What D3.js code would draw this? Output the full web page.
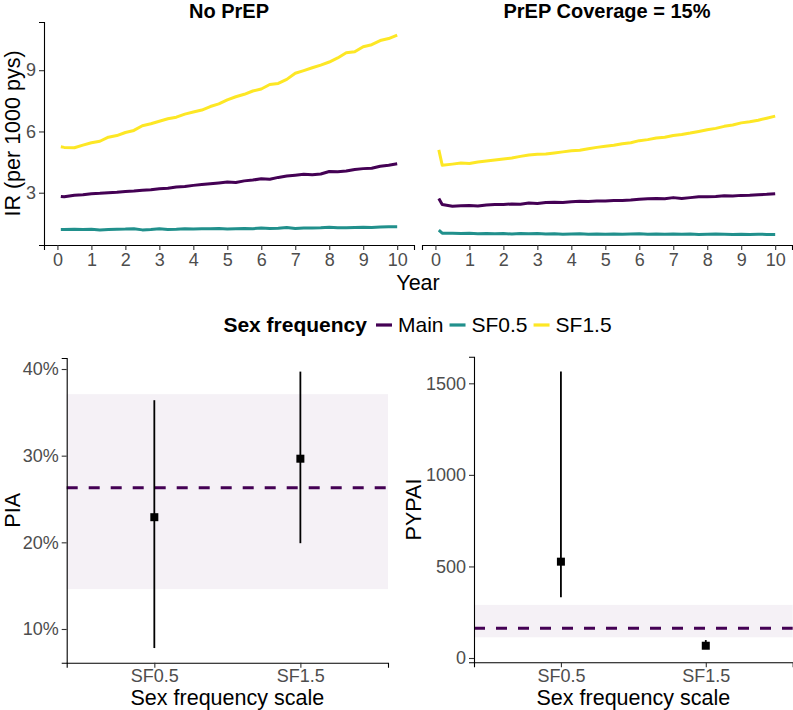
<!DOCTYPE html>
<html>
<head>
<meta charset="utf-8">
<script src="https://cdn.jsdelivr.net/npm/d3@7"></script>
<style>
  html, body { margin: 0; padding: 0; background: #fff; }
  svg { display: block; font-family: "Liberation Sans", Arial, sans-serif; }
</style>
</head>
<body>
<svg id="chart" width="793" height="710"></svg>
<script>
// ---------------- DATA ----------------
const years = [0.1, 0.2, 0.5, 0.75, 1.0, 1.25, 1.5, 1.75, 2.0, 2.25, 2.5, 2.75, 3.0, 3.25, 3.5, 3.75,
  4.0, 4.25, 4.5, 4.75, 5.0, 5.25, 5.5, 5.75, 6.0, 6.25, 6.5, 6.75, 7.0, 7.25, 7.5, 7.75,
  8.0, 8.25, 8.5, 8.75, 9.0, 9.25, 9.5, 9.75, 10.0];

const panelTitles = ["No PrEP", "PrEP Coverage = 15%"];
const seriesNames = ["Main", "SF0.5", "SF1.5"];
const seriesColors = ["#440154", "#21908C", "#FDE725"];

// No PrEP
const noPrepMain = [2.82, 2.80, 2.88, 2.90, 2.95, 2.97, 3.00, 3.02, 3.06, 3.08, 3.12, 3.15, 3.20, 3.22, 3.28, 3.30,
  3.36, 3.40, 3.44, 3.48, 3.52, 3.50, 3.58, 3.62, 3.68, 3.66, 3.75, 3.82, 3.86, 3.90, 3.88, 3.92,
  4.04, 4.03, 4.06, 4.14, 4.18, 4.20, 4.30, 4.35, 4.42];
const noPrepSF05 = [1.20, 1.20, 1.21, 1.20, 1.21, 1.18, 1.20, 1.21, 1.22, 1.24, 1.18, 1.20, 1.23, 1.20, 1.21, 1.23,
  1.22, 1.24, 1.24, 1.25, 1.22, 1.24, 1.25, 1.24, 1.27, 1.25, 1.26, 1.30, 1.25, 1.27, 1.27, 1.28,
  1.31, 1.28, 1.29, 1.30, 1.31, 1.30, 1.32, 1.33, 1.33];
const noPrepSF15 = [5.25, 5.22, 5.20, 5.33, 5.45, 5.52, 5.72, 5.80, 5.95, 6.05, 6.28, 6.38, 6.50, 6.62, 6.70, 6.85,
  6.95, 7.05, 7.22, 7.35, 7.55, 7.70, 7.82, 7.98, 8.08, 8.30, 8.35, 8.55, 8.85, 8.98, 9.12, 9.25,
  9.40, 9.60, 9.85, 9.90, 10.15, 10.25, 10.45, 10.55, 10.72];

// PrEP coverage = 15%
const prepMain = [2.72, 2.42, 2.34, 2.36, 2.38, 2.35, 2.40, 2.42, 2.42, 2.45, 2.44, 2.50, 2.47, 2.52, 2.53, 2.52,
  2.56, 2.58, 2.57, 2.60, 2.60, 2.62, 2.62, 2.64, 2.68, 2.70, 2.72, 2.70, 2.76, 2.72, 2.76, 2.80,
  2.80, 2.82, 2.85, 2.84, 2.87, 2.88, 2.90, 2.92, 2.95];
const prepSF05 = [1.17, 1.02, 1.02, 1.00, 1.01, 0.99, 1.00, 0.99, 1.00, 0.98, 1.00, 0.99, 1.00, 0.98, 0.99, 0.97,
  0.98, 0.99, 0.97, 0.98, 0.97, 0.98, 0.97, 0.98, 0.99, 0.97, 0.98, 0.97, 0.98, 0.97, 0.98, 0.96,
  0.97, 0.98, 0.97, 0.96, 0.97, 0.96, 0.97, 0.96, 0.96];
const prepSF15 = [5.10, 4.35, 4.40, 4.45, 4.43, 4.50, 4.55, 4.60, 4.65, 4.70, 4.78, 4.85, 4.88, 4.90, 4.95, 5.00,
  5.05, 5.08, 5.15, 5.22, 5.28, 5.32, 5.40, 5.45, 5.55, 5.60, 5.68, 5.72, 5.80, 5.85, 5.92, 6.00,
  6.08, 6.15, 6.25, 6.32, 6.42, 6.48, 6.55, 6.65, 6.75];

const topYTicks = [3, 6, 9];
const topXTicks = [0, 1, 2, 3, 4, 5, 6, 7, 8, 9, 10];

// Bottom panels
const categories = ["SF0.5", "SF1.5"];
const piaEst = [0.229, 0.2965];
const piaLow = [0.078, 0.199];
const piaHigh = [0.364, 0.397];
const piaRef = 0.263;
const piaBand = [0.146, 0.371];
const piaTicks = [0.1, 0.2, 0.3, 0.4];

const pypaiEst = [526, 67];
const pypaiLow = [332, 50];
const pypaiHigh = [1565, 98];
const pypaiRef = 162;
const pypaiBand = [113, 290];
const pypaiTicks = [0, 500, 1000, 1500];

// ---------------- DRAW ----------------
const svg = d3.select("#chart");
const FONT_TICK = 18, FONT_AXIS = 21.5, FONT_TITLE = 20, FONT_LEGEND = 21;
const tickColor = "#333333", tickText = "#4D4D4D";

// --- top panels ---
const topY = d3.scaleLinear().domain([0.44, 11.36]).range([245, 22]);
const topPanels = [
  { x0: 44, x1: 414, title: panelTitles[0], series: [noPrepMain, noPrepSF05, noPrepSF15], yAxis: true },
  { x0: 422, x1: 792, title: panelTitles[1], series: [prepMain, prepSF05, prepSF15], yAxis: false }
];

topPanels.forEach(p => {
  const x = d3.scaleLinear().domain([-0.395, 10.495]).range([p.x0, p.x1]);
  const g = svg.append("g");

  const xa = g.append("g").attr("transform", `translate(0,${topY.range()[0]})`)
    .call(d3.axisBottom(x).tickValues(topXTicks).tickSize(5).tickPadding(3).tickFormat(d3.format("d")));
  xa.select(".domain").attr("stroke", "#000").attr("stroke-width", 1.1);
  xa.selectAll(".tick line").attr("stroke", tickColor).attr("stroke-width", 1.1);
  xa.selectAll(".tick text").attr("fill", tickText).attr("font-size", FONT_TICK)
    .attr("font-family", "Liberation Sans, Arial, sans-serif");

  if (p.yAxis) {
    const ya = g.append("g").attr("transform", `translate(${p.x0},0)`)
      .call(d3.axisLeft(topY).tickValues(topYTicks).tickSize(5).tickPadding(3));
    ya.select(".domain").attr("stroke", "#000").attr("stroke-width", 1.1);
    ya.selectAll(".tick line").attr("stroke", tickColor).attr("stroke-width", 1.1);
    ya.selectAll(".tick text").attr("fill", tickText).attr("font-size", FONT_TICK)
      .attr("font-family", "Liberation Sans, Arial, sans-serif");
  }

  const line = d3.line().x((d, i) => x(years[i])).y(d => topY(d));
  p.series.forEach((s, k) => {
    g.append("path").datum(s).attr("d", line).attr("fill", "none")
      .attr("stroke", seriesColors[k]).attr("stroke-width", 3)
      .attr("stroke-linejoin", "round").attr("stroke-linecap", "butt");
  });

  g.append("text").attr("x", (p.x0 + p.x1) / 2).attr("y", 18)
    .attr("text-anchor", "middle").attr("font-weight", "bold")
    .attr("font-size", FONT_TITLE).attr("fill", "#000").text(p.title);
});

// top axis titles
svg.append("text").attr("x", (44 + 792) / 2).attr("y", 290).attr("text-anchor", "middle")
  .attr("font-size", FONT_AXIS).attr("fill", "#000").text("Year");
svg.append("text").attr("transform", `translate(20,${(22 + 245) / 2}) rotate(-90)`)
  .attr("text-anchor", "middle").attr("font-size", FONT_AXIS).attr("fill", "#000").text("IR (per 1000 pys)");

// --- legend ---
const leg = svg.append("g");
const legY = 325;
let cx = 0;
const t0 = leg.append("text").attr("x", cx).attr("y", legY).attr("dy", "0.35em")
  .attr("font-weight", "bold").attr("font-size", FONT_LEGEND).text("Sex frequency");
cx += t0.node().getComputedTextLength() + 9;
seriesNames.forEach((n, i) => {
  leg.append("line").attr("x1", cx).attr("x2", cx + 16).attr("y1", legY).attr("y2", legY)
    .attr("stroke", seriesColors[i]).attr("stroke-width", 3.2);
  cx += 16 + 6;
  const t = leg.append("text").attr("x", cx).attr("y", legY).attr("dy", "0.35em")
    .attr("font-size", FONT_LEGEND).attr("fill", "#000").text(n);
  cx += t.node().getComputedTextLength() + 6;
});
const legW = cx - 6;
leg.attr("transform", `translate(${417.5 - legW / 2},0)`);

// --- bottom panels ---
const bottomPanels = [
  { x0: 66.7, x1: 388, y0: 662.7, y1: 358, domain: [0.0611, 0.4127], ticks: piaTicks,
    fmt: d3.format(".0%"), est: piaEst, low: piaLow, high: piaHigh, ref: piaRef, band: piaBand,
    label: "PIA", labelX: 19.5 },
  { x0: 474, x1: 792.7, y0: 662.3, y1: 356.7, domain: [-23.5, 1645.3], ticks: pypaiTicks,
    fmt: d3.format("d"), est: pypaiEst, low: pypaiLow, high: pypaiHigh, ref: pypaiRef, band: pypaiBand,
    label: "PYPAI", labelX: 421 }
];

bottomPanels.forEach(p => {
  const g = svg.append("g");
  const x = d3.scalePoint().domain(categories).range([p.x0, p.x1]).padding(0.6);
  const y = d3.scaleLinear().domain(p.domain).range([p.y0, p.y1]);

  g.append("rect").attr("x", p.x0).attr("width", p.x1 - p.x0)
    .attr("y", y(p.band[1])).attr("height", y(p.band[0]) - y(p.band[1]))
    .attr("fill", "#440154").attr("fill-opacity", 0.055);

  g.append("line").attr("x1", p.x0).attr("x2", p.x1).attr("y1", y(p.ref)).attr("y2", y(p.ref))
    .attr("stroke", "#440154").attr("stroke-width", 3).attr("stroke-dasharray", "11,11");

  categories.forEach((c, i) => {
    g.append("line").attr("x1", x(c)).attr("x2", x(c)).attr("y1", y(p.low[i])).attr("y2", y(p.high[i]))
      .attr("stroke", "#000").attr("stroke-width", 1.8);
    g.append("rect").attr("x", x(c) - 4).attr("y", y(p.est[i]) - 4).attr("width", 8).attr("height", 8)
      .attr("fill", "#000");
  });

  const xa = g.append("g").attr("transform", `translate(0,${p.y0})`)
    .call(d3.axisBottom(x).tickSize(5).tickPadding(2));
  xa.select(".domain").attr("stroke", "#000").attr("stroke-width", 1.1);
  xa.selectAll(".tick line").attr("stroke", tickColor).attr("stroke-width", 1.1);
  xa.selectAll(".tick text").attr("fill", tickText).attr("font-size", FONT_TICK)
    .attr("font-family", "Liberation Sans, Arial, sans-serif");

  const ya = g.append("g").attr("transform", `translate(${p.x0},0)`)
    .call(d3.axisLeft(y).tickValues(p.ticks).tickFormat(p.fmt).tickSize(5).tickPadding(3));
  ya.select(".domain").attr("stroke", "#000").attr("stroke-width", 1.1);
  ya.selectAll(".tick line").attr("stroke", tickColor).attr("stroke-width", 1.1);
  ya.selectAll(".tick text").attr("fill", tickText).attr("font-size", FONT_TICK)
    .attr("font-family", "Liberation Sans, Arial, sans-serif");

  g.append("text").attr("x", (p.x0 + p.x1) / 2).attr("y", 705).attr("text-anchor", "middle")
    .attr("font-size", FONT_AXIS).attr("fill", "#000").text("Sex frequency scale");
  g.append("text").attr("transform", `translate(${p.labelX},${(p.y0 + p.y1) / 2}) rotate(-90)`)
    .attr("text-anchor", "middle").attr("font-size", FONT_AXIS).attr("fill", "#000").text(p.label);
});
</script>
</body>
</html>
